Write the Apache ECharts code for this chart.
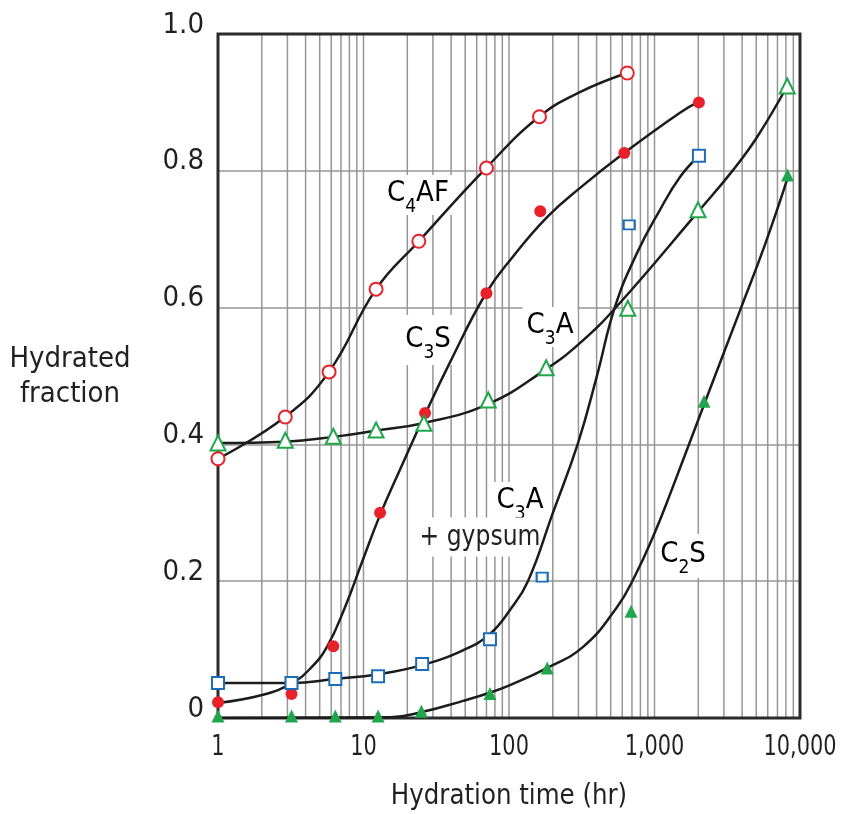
<!DOCTYPE html>
<html>
<head>
<meta charset="utf-8">
<script src="https://cdn.jsdelivr.net/npm/echarts@6/dist/echarts.min.js"></script>
<style>
  html, body { margin: 0; padding: 0; background: #ffffff; }
  #chart { width: 842px; height: 814px; }
</style>
</head>
<body>
<div id="chart"></div>
<script>
// Hydration of the cement clinker phases: hydrated fraction vs. time (hr, log scale)

const FONT = '"DejaVu Sans Condensed", "Liberation Sans Narrow", sans-serif';
const INK = '#231f20';
const RED = '#e8212b';
const GREEN = '#22a64c';
const BLUE = '#1b6db5';

// Measured points [time (hr), hydrated fraction]
const c4afPoints = [[1, 0.379], [2.9, 0.44], [5.8, 0.506], [12.2, 0.627], [24, 0.697], [70, 0.804], [162, 0.879], [650, 0.943]];
const c3sPoints = [[1, 0.023], [3.2, 0.035], [6.2, 0.105], [13, 0.30], [26.5, 0.446], [70, 0.621], [164, 0.741], [620, 0.826], [2020, 0.90]];
const c3aPoints = [[1, 0.402], [2.9, 0.406], [6.2, 0.412], [12.2, 0.421], [26, 0.431], [72, 0.465], [180, 0.512], [655, 0.599], [1990, 0.743], [8170, 0.924]];
const c3aGypsumPoints = [[1, 0.051], [3.2, 0.051], [6.4, 0.057], [12.6, 0.061], [25.3, 0.079], [74, 0.115], [169, 0.206], [670, 0.721], [2020, 0.822]];
const c2sPoints = [[1, 0.003], [3.2, 0.003], [6.4, 0.003], [12.6, 0.003], [25, 0.010], [74, 0.036], [183, 0.073], [690, 0.156], [2190, 0.463], [8210, 0.794]];

// Fitted trend curves [time (hr), hydrated fraction]
const c4afCurve = [[1, 0.379], [2.88, 0.44], [5.79, 0.506], [12.2, 0.627], [24, 0.697], [69.5, 0.804], [161, 0.879], [307, 0.915], [647, 0.943]];
const c3sCurve = [[1, 0.022], [2.04, 0.034], [3.22, 0.051], [4.29, 0.072], [5.61, 0.104], [7.46, 0.162], [9.77, 0.228], [13.0, 0.297], [17.8, 0.363], [26.5, 0.444], [39.3, 0.520], [69.5, 0.621], [106, 0.674], [182, 0.732], [308, 0.775], [627, 0.827], [1497, 0.885], [2023, 0.901]];
const c3aCurve = [[1, 0.402], [2.88, 0.404], [6.17, 0.411], [12.0, 0.420], [25.6, 0.431], [71.7, 0.459], [177, 0.509], [307, 0.548], [552, 0.602], [1990, 0.740], [3465, 0.801], [5060, 0.849], [8170, 0.924]];
const c3aGypsumCurve = [[1, 0.051], [3.2, 0.051], [6.37, 0.057], [12.6, 0.064], [24.8, 0.077], [48.3, 0.099], [74, 0.123], [101.6, 0.158], [135, 0.200], [198, 0.297], [298, 0.402], [403, 0.501], [535, 0.601], [759, 0.680], [1091, 0.743], [1497, 0.791], [2023, 0.822]];
const c2sCurve = [[1, 0.0], [15.2, 0.001], [25.6, 0.009], [48.3, 0.025], [76.4, 0.038], [101.6, 0.048], [182, 0.073], [323, 0.104], [552, 0.162], [735, 0.208], [977, 0.265], [1278, 0.327], [2188, 0.458], [3873, 0.596], [5745, 0.692], [8270, 0.791]];

// Axis ticks and titles
const xDecades = [1, 10, 100, 1000, 10000];
const xTickText = ['1', '10', '100', '1,000', '10,000'];
const yTicks = [0, 0.2, 0.4, 0.6, 0.8, 1.0];
const yTickText = ['0', '0.2', '0.4', '0.6', '0.8', '1.0'];
const xTitle = 'Hydration time (hr)';
const yTitle = 'Hydrated\nfraction';

// Vertical log grid: 2..9 within every decade plus the inner decades
const xGridValues = [];
for (let d = 0; d < xDecades.length - 1; d++) {
  for (let k = 1; k <= 9; k++) {
    const v = xDecades[d] * k;
    if (v > 1) xGridValues.push([v, 0]);
  }
}

// The two late C3A + gypsum readings are drawn with a smaller box
const smallSquareIndex = [6, 7];

const chart = echarts.init(document.getElementById('chart'), null, { renderer: 'canvas' });

function curveSeries(name, data) {
  return {
    name, type: 'line', data, z: 5,
    showSymbol: false, smooth: 0.45, silent: true, clip: true,
    lineStyle: { color: '#1c1c1c', width: 2.5 },
    animation: false
  };
}

function pointSeries(name, data, symbol, size, fill, stroke) {
  return {
    name, type: 'scatter', data, z: 6,
    symbol, symbolSize: size, silent: true,
    itemStyle: { color: fill, borderColor: stroke, borderWidth: fill === '#ffffff' ? 2 : 0, opacity: 1 },
    animation: false
  };
}

const chemRich = {
  m: { fontFamily: FONT, fontSize: 29, color: INK, lineHeight: 32, verticalAlign: 'top' },
  s: { fontFamily: FONT, fontSize: 19, color: INK, lineHeight: 19, padding: [19, 0, 0, 0], verticalAlign: 'top' }
};

function chemLabel(text, x, y, pad) {
  return {
    type: 'text', x, y, z: 3, silent: true,
    style: {
      text, rich: chemRich,
      align: 'center', verticalAlign: 'middle',
      textAlign: 'center', textVerticalAlign: 'middle',
      backgroundColor: '#ffffff', padding: pad || [2, 4, 2, 4]
    }
  };
}

function plainText(text, x, y, scaleX, extra) {
  return {
    type: 'text', x, y, z: 3, silent: true, scaleX: scaleX || 1,
    style: Object.assign({
      text, fontFamily: FONT, fontSize: 29, fill: INK,
      align: 'center', verticalAlign: 'middle', textAlign: 'center', textVerticalAlign: 'middle'
    }, extra || {})
  };
}

const labelGraphics = [
  plainText(yTitle, 70, 377, 1, { lineHeight: 35 }),
  chemLabel('{m|C}{s|4}{m|AF}', 418, 195, [4, 4, 4, 4]),
  chemLabel('{m|C}{s|3}{m|S}', 428, 340, [10, 4, 8, 4]),
  chemLabel('{m|C}{s|3}{m|A}', 550, 327, [4, 4, 4, 4]),
  chemLabel('{m|C}{s|3}{m|A}', 520, 501, [4, 4, 2, 4]),
  plainText('+ gypsum', 480, 537, 0.9, { backgroundColor: '#ffffff', padding: [4, 6, 6, 6] }),
  chemLabel('{m|C}{s|2}{m|S}', 683, 556, [6, 4, 6, 4])
];

const option = {
  animation: false,
  backgroundColor: '#ffffff',
  grid: {
    left: 218, top: 34, right: 42, bottom: 96,
    show: true, z: 4, backgroundColor: 'transparent',
    borderColor: '#2b2b2b', borderWidth: 3
  },
  xAxis: {
    type: 'log', logBase: 10, min: 1, max: 10000,
    axisLine: { show: false },
    axisTick: { show: false },
    splitLine: { show: false },
    axisLabel: { show: false }
  },
  yAxis: {
    type: 'value', min: 0, max: 1, interval: 0.2,
    axisLine: { show: false },
    axisTick: { show: false },
    splitLine: { show: true, lineStyle: { color: '#969696', width: 1.5 } },
    axisLabel: {
      fontFamily: FONT, fontSize: 29, color: INK, margin: 14,
      verticalAlign: 'bottom', lineHeight: 18,
      formatter: v => {
        const i = yTicks.findIndex(t => Math.abs(t - v) < 1e-6);
        return i >= 0 ? yTickText[i] : '';
      }
    }
  },
  graphic: labelGraphics,
  series: [
    {
      name: 'grid', type: 'custom', z: 1, silent: true, animation: false,
      data: xGridValues,
      encode: { x: 0, y: 1 },
      renderItem: (params, api) => {
        const bottom = api.coord([api.value(0), 0]);
        const top = api.coord([api.value(0), 1]);
        return {
          type: 'line',
          shape: { x1: bottom[0], y1: bottom[1], x2: top[0], y2: top[1] },
          style: { stroke: '#969696', lineWidth: 1.5 }
        };
      }
    },
    curveSeries('C4AF curve', c4afCurve),
    curveSeries('C3S curve', c3sCurve),
    curveSeries('C3A curve', c3aCurve),
    curveSeries('C3A + gypsum curve', c3aGypsumCurve),
    curveSeries('C2S curve', c2sCurve),
    pointSeries('C4AF', c4afPoints, 'circle', 13, '#ffffff', RED),
    pointSeries('C3S', c3sPoints, 'circle', 12, RED, RED),
    pointSeries('C3A', c3aPoints, 'triangle', 15, '#ffffff', GREEN),
    pointSeries('C3A + gypsum', c3aGypsumPoints,
      'rect', (val, params) => smallSquareIndex.includes(params.dataIndex) ? [11, 9] : 12,
      '#ffffff', BLUE),
    pointSeries('C2S', c2sPoints, 'triangle', 13, GREEN, GREEN)
  ]
};

chart.setOption(option);

// Decade labels and the time title, placed through the axis scale in a condensed width
const tickGraphics = xDecades.map((t, i) => {
  const p = chart.convertToPixel({ gridIndex: 0 }, [t, 0]);
  return plainText(xTickText[i], p[0], p[1] + 29, 0.8);
});
const left = chart.convertToPixel({ gridIndex: 0 }, [xDecades[0], 0]);
const right = chart.convertToPixel({ gridIndex: 0 }, [xDecades[xDecades.length - 1], 0]);
tickGraphics.push(plainText(xTitle, (left[0] + right[0]) / 2, left[1] + 78, 0.94));

chart.setOption({ graphic: labelGraphics.concat(tickGraphics) });
</script>
</body>
</html>
